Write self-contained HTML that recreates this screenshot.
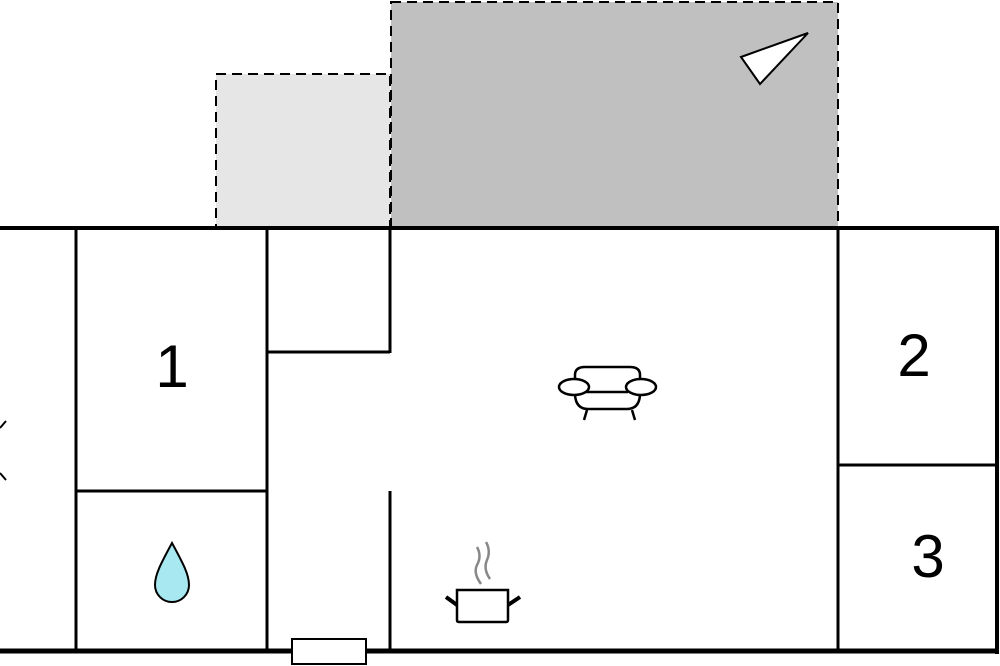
<!DOCTYPE html>
<html><head><style>body{margin:0;background:#fff}svg{display:block}</style></head><body>
<svg width="1000" height="666" viewBox="0 0 1000 666" xmlns="http://www.w3.org/2000/svg">
<rect x="216" y="74" width="174" height="154" fill="#e6e6e6" stroke="#000" stroke-width="2" stroke-dasharray="10,6"/>
<rect x="391" y="2" width="447" height="226" fill="#c0c0c0" stroke="#000" stroke-width="2" stroke-dasharray="10,6"/>
<polygon points="741,57 808,33 760,84" fill="#fff" stroke="#000" stroke-width="2"/>
<g stroke="#000" fill="none">
<line x1="-5" y1="228" x2="999" y2="228" stroke-width="4"/>
<line x1="997" y1="226" x2="997" y2="654" stroke-width="4"/>
<line x1="-5" y1="651" x2="999" y2="651" stroke-width="5"/>
<g stroke-width="3">
<line x1="76" y1="228" x2="76" y2="651"/>
<line x1="267" y1="228" x2="267" y2="651"/>
<line x1="76" y1="491" x2="267" y2="491"/>
<line x1="390" y1="228" x2="390" y2="353"/>
<line x1="267" y1="352" x2="390" y2="352"/>
<line x1="390" y1="491" x2="390" y2="651"/>
<line x1="838" y1="228" x2="838" y2="651"/>
<line x1="838" y1="465" x2="997" y2="465"/>
<line x1="0" y1="428" x2="6" y2="421" stroke-width="2"/>
<line x1="0" y1="473" x2="6" y2="480" stroke-width="2"/>
</g>
</g>
<rect x="292" y="639" width="74" height="25" fill="#fff" stroke="#000" stroke-width="2"/>
<g font-family="Liberation Sans, sans-serif" font-size="60" text-anchor="middle" fill="#000">
<text x="172" y="387">1</text>
<text x="914" y="376">2</text>
<text x="928" y="577">3</text>
</g>
<path d="M172,543 C160,565 155,575 155,585 A17,17 0 0 0 189,585 C189,575 184,565 172,543 Z" fill="#a8e8f0" stroke="#000" stroke-width="2"/>
<g stroke="#000" stroke-width="2.5" fill="none">
<path d="M575,383 L575,375 Q575,367 585,367 L630,367 Q640,367 640,375 L640,383"/>
<ellipse cx="574" cy="387" rx="15" ry="8" fill="#fff"/>
<ellipse cx="641" cy="387" rx="15" ry="8" fill="#fff"/>
<line x1="586" y1="392" x2="628" y2="392"/>
<path d="M575,395 Q576,409 588,409 L627,409 Q639,409 640,395"/>
<line x1="587" y1="410" x2="584" y2="420"/>
<line x1="632" y1="410" x2="635" y2="420"/>
<path d="M457,590 L508,590 L508,620 Q508,622 506,622 L459,622 Q457,622 457,620 Z"/>
<line x1="446" y1="597" x2="457" y2="605" stroke-width="4"/>
<line x1="520" y1="597" x2="508" y2="605" stroke-width="4"/>
</g>
<g stroke="#888" stroke-width="2.5" fill="none">
<path d="M477,547 Q482,556 477,565 Q473,573 481,584"/>
<path d="M486,542 Q491,551 487,560 Q483,569 490,579"/>
</g>
</svg>
</body></html>
